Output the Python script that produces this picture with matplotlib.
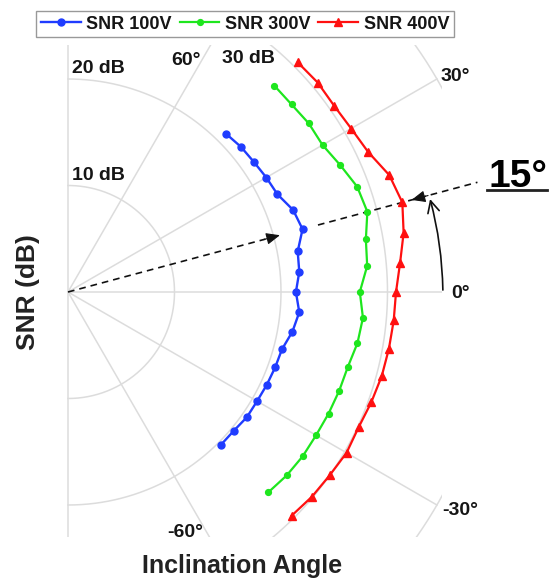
import numpy as np
import matplotlib
matplotlib.use('Agg')
import matplotlib.pyplot as plt
from matplotlib.lines import Line2D

# ---------------- data ----------------
angles_deg = [45, 40, 35, 30, 25, 20, 15, 10, 5, 0, -5, -10, -15, -20, -25, -30, -35, -40, -45]
snr_100v = [21.0, 21.2, 21.3, 21.5, 21.7, 22.5, 22.8, 21.9, 21.8, 21.4, 21.8, 21.4, 20.8, 20.7, 20.6, 20.5, 20.5, 20.3, 20.3]
snr_300v = [27.4, 27.4, 27.6, 27.6, 28.2, 28.9, 29.1, 28.4, 28.2, 27.4, 27.8, 27.6, 27.2, 27.1, 27.0, 26.9, 26.9, 26.8, 26.6]
snr_400v = [30.5, 30.6, 30.5, 30.7, 31.1, 32.1, 32.5, 32.0, 31.3, 30.8, 30.7, 30.6, 30.5, 30.3, 30.1, 30.2, 30.0, 29.9, 29.7]
series_labels = ['SNR 100V', 'SNR 300V', 'SNR 400V']
r_grid = [10, 20, 30, 40]
r_tick_labels = ['10 dB', '20 dB', '30 dB']
theta_grid = [-90, -60, -30, 0, 30, 60, 90]
theta_tick_labels = ['60°', '30°', '0°', '-30°', '-60°']
peak_angle = 15
r_max = 40

# ---------------- layout ----------------
W, H, DPI = 549, 581, 100
PX = 10.65          # pixels per dB
CX, CY = 68, 292    # pole position in pixels (top origin)
AX_L, AX_R, AX_T, AX_B = 60, 442, 45, 537

plt.rcParams['font.family'] = ['Liberation Sans', 'DejaVu Sans']
plt.rcParams['font.weight'] = 'bold'

fig = plt.figure(figsize=(W / DPI, H / DPI), dpi=DPI)
ax = fig.add_axes([AX_L / W, 1 - AX_B / H, (AX_R - AX_L) / W, (AX_B - AX_T) / H])
ax.set_xlim((AX_L - CX) / PX, (AX_R - CX) / PX)
ax.set_ylim((CY - AX_B) / PX, (CY - AX_T) / PX)
ax.axis('off')


def pol(r, th):
    t = np.deg2rad(np.asarray(th, dtype=float))
    r = np.asarray(r, dtype=float)
    return r * np.cos(t), r * np.sin(t)


def pxd(px, py):
    return (px - CX) / PX, (CY - py) / PX


grid_c = '#dcdcdc'
th_dense = np.linspace(-90, 90, 400)
for r in r_grid:
    x, y = pol(np.full_like(th_dense, r), th_dense)
    ax.plot(x, y, color=grid_c, lw=1.1, zorder=1)
for a in theta_grid:
    x, y = pol([0, r_max], [a, a])
    ax.plot(x, y, color=grid_c, lw=1.1, zorder=1)

# dashed guide lines at the peak angle
x, y = pol([0, 19.2], [peak_angle, peak_angle])
ax.plot(x, y, color='#111111', lw=1.2, ls=(0, (4, 3)), zorder=2, clip_on=False)
ax.annotate('', xy=pol(20.6, peak_angle), xytext=pol(19.0, peak_angle),
            arrowprops=dict(arrowstyle='-|>,head_length=0.7,head_width=0.3', color='#111111',
                            lw=0.8, shrinkA=0, shrinkB=0, mutation_scale=12),
            annotation_clip=False)
x, y = pol([24.3, 39.8], [peak_angle, peak_angle])
ax.plot(x, y, color='#111111', lw=1.2, ls=(0, (4, 3)), zorder=2, clip_on=False)
ax.annotate('', xy=pol(33.4, peak_angle), xytext=pol(35.0, peak_angle),
            arrowprops=dict(arrowstyle='-|>,head_length=0.7,head_width=0.3', color='#111111',
                            lw=0.8, shrinkA=0, shrinkB=0, mutation_scale=12),
            annotation_clip=False)
# curved arrow 0 -> 15 deg
ax.annotate('', xy=pol(35.1, 14.4), xytext=pol(35.2, 0.3),
            arrowprops=dict(arrowstyle='->,head_length=0.6,head_width=0.3', color='#111111',
                            lw=1.2, shrinkA=0, shrinkB=0, mutation_scale=14,
                            connectionstyle='arc3,rad=0.061'),
            annotation_clip=False)

# series
h1, = ax.plot(*pol(snr_100v, angles_deg), color='#1f3cff', lw=1.7, marker='o', ms=5, zorder=4)
h2, = ax.plot(*pol(snr_300v, angles_deg), color='#1ee61e', lw=1.6, marker='o', ms=4.2, zorder=4)
h3, = ax.plot(*pol(snr_400v, angles_deg), color='#ff1010', lw=1.6, marker='^', ms=5.5, zorder=4)

tc = '#151515'
fs = 14
# r labels
ax.text(*pxd(72, 180), r_tick_labels[0], fontsize=fs, color=tc, ha='left', va='baseline')
ax.text(*pxd(72, 73), r_tick_labels[1], fontsize=fs, color=tc, ha='left', va='baseline')
ax.text(*pxd(222, 63), r_tick_labels[2], fontsize=fs, color=tc, ha='left', va='baseline', clip_on=False)
# angle labels
ang_pos = [(171, 65), (441, 81), (451, 298), (442, 515), (167, 537)]
for (px, py), lab in zip(ang_pos, theta_tick_labels):
    ax.text(*pxd(px, py), lab, fontsize=fs, color=tc, ha='left', va='baseline', clip_on=False)

# legend
leg = fig.legend([h1, h2, h3], series_labels, loc='upper center', bbox_to_anchor=(245 / W, 1 - 11 / H),
                 ncol=3, prop={'weight': 'bold', 'size': 13}, frameon=True, fancybox=False,
                 edgecolor='#808080', handlelength=2.2, handletextpad=0.3, columnspacing=0.45,
                 borderpad=0.25, borderaxespad=0)
leg.get_frame().set_linewidth(1.0)
for t in leg.get_texts():
    t.set_color(tc)

# axis titles
fig.text(242 / W, 1 - 573 / H, 'Inclination Angle', fontsize=18, color='#222222', ha='center', va='baseline')
fig.text(28 / W, 1 - 292 / H, 'SNR (dB)', fontsize=19, color='#222222', ha='center', va='center', rotation=90)

# 15 degree marker
fig.text(518 / W, 1 - 187 / H, f'{peak_angle}°', fontsize=28, color='black', ha='center', va='baseline')
fig.add_artist(Line2D([487 / W, 547 / W], [1 - 190 / H, 1 - 190 / H], color='#222222', lw=2,
                      transform=fig.transFigure))

fig.savefig('out.png', dpi=DPI)
